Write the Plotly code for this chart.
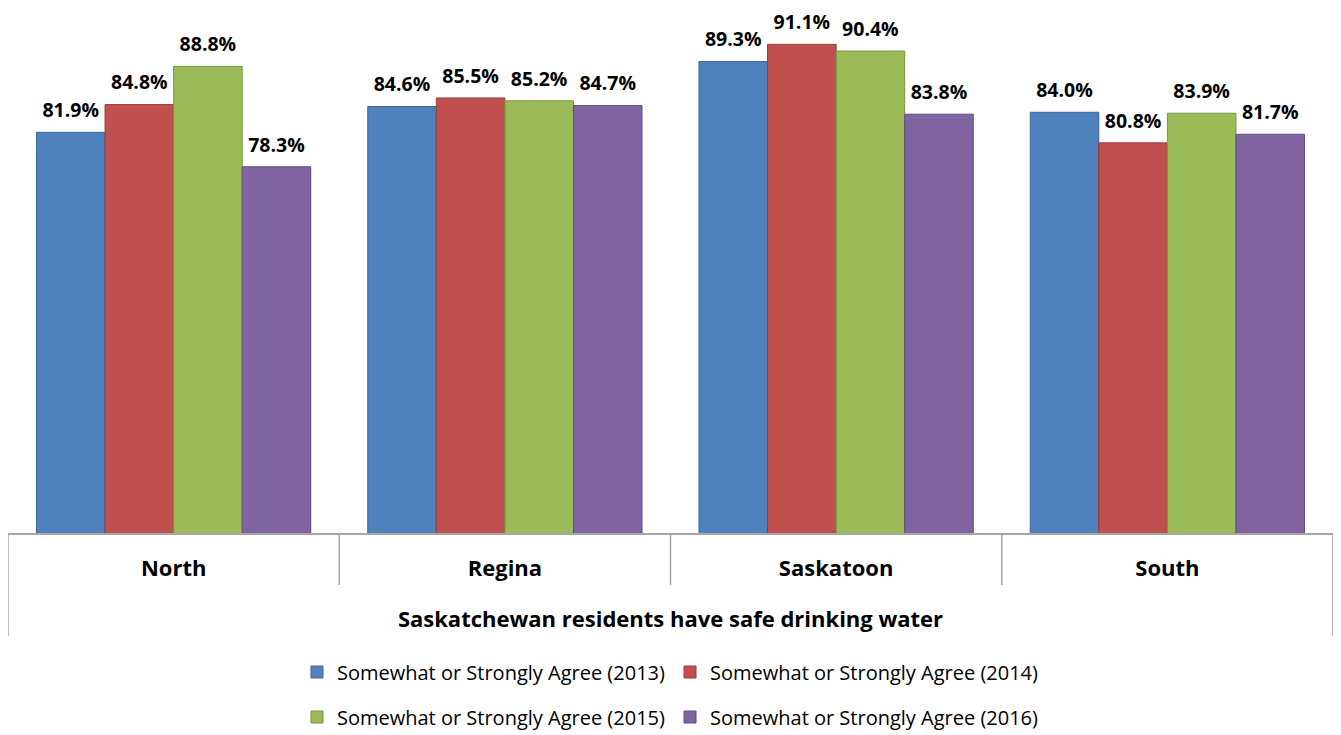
import plotly.graph_objects as go

categories = ["North", "Regina", "Saskatoon", "South"]
series_names = [
    "Somewhat or Strongly Agree (2013)",
    "Somewhat or Strongly Agree (2014)",
    "Somewhat or Strongly Agree (2015)",
    "Somewhat or Strongly Agree (2016)",
]
v2013 = [81.9, 84.6, 89.3, 84.0]
v2014 = [84.8, 85.5, 91.1, 80.8]
v2015 = [88.8, 85.2, 90.4, 83.9]
v2016 = [78.3, 84.7, 83.8, 81.7]
axis_title = "Saskatchewan residents have safe drinking water"

values = [v2013, v2014, v2015, v2016]
fills = ["#4F81BD", "#C0504D", "#9BBB59", "#8064A2"]
edges = ["#3A6698", "#9A3B39", "#78963F", "#624C80"]
legends = ["legend", "legend", "legend2", "legend2"]

FONT = "Open Sans"
GAP = 0.172

fig = go.Figure()
for idx, (name, vals, fc, ec, lg) in enumerate(zip(series_names, values, fills, edges, legends)):
    fig.add_trace(go.Bar(
        x=categories, y=vals, name=name,
        marker=dict(color=fc, line=dict(color=ec, width=1)),
        offsetgroup=str(idx), alignmentgroup="bars",
        legend=lg,
    ))
for idx, (name, vals) in enumerate(zip(series_names, values)):
    fig.add_trace(go.Scatter(
        x=categories, y=vals, mode="text+markers",
        marker=dict(size=15, opacity=0),
        text=[f"{v:.1f}%" for v in vals],
        textposition="top center",
        textfont=dict(family=FONT, size=19.5, color="#000000", weight="bold"),
        offsetgroup=str(idx), alignmentgroup="labels",
        showlegend=False, hoverinfo="skip",
        cliponaxis=False,
    ))

# page has an 8px body margin; figure is sized to fit the window
W, H = 1325, 727
ml, mr, mt, mb = 0, 0, 1, 202
ph = H - mt - mb

def py(px_below):
    return -px_below / ph

shapes = []
for i in range(len(categories) + 1):
    xpos = i - 0.5
    depth = 103 if i in (0, len(categories)) else 52
    shapes.append(dict(type="line", xref="x", yref="paper", x0=xpos, x1=xpos,
                       y0=0, y1=py(depth), line=dict(color="#A6A6A6", width=1.5)))

legend_font = dict(family=FONT, size=20, color="#000000")
fig.update_layout(
    width=W, height=H,
    margin=dict(l=ml, r=mr, t=mt, b=mb, autoexpand=False),
    paper_bgcolor="white", plot_bgcolor="white",
    barmode="group", bargap=GAP, bargroupgap=0,
    scattermode="group", scattergap=GAP,
    showlegend=True,
    legend=dict(orientation="h", x=0.5, xanchor="center", xref="container",
                y=(H - 664) / H, yanchor="middle", yref="container",
                font=legend_font, traceorder="normal", itemwidth=30, tracegroupgap=0),
    legend2=dict(orientation="h", x=0.5, xanchor="center", xref="container",
                 y=(H - 709) / H, yanchor="middle", yref="container",
                 font=legend_font, traceorder="normal", itemwidth=30, tracegroupgap=0),
    xaxis=dict(range=[-0.5, len(categories) - 0.5], showline=True, linecolor="#A6A6A6",
               linewidth=1.5, showgrid=False, zeroline=False, ticks="",
               automargin=False,
               tickfont=dict(family=FONT, size=22, color="#000000", weight="bold"),
               ticklabelstandoff=15,
               title=dict(text="<b>" + axis_title + "</b>",
                          font=dict(family=FONT, size=22, color="#000000"), standoff=30)),
    yaxis=dict(range=[40, 94.8], visible=False, showgrid=False, zeroline=False,
               automargin=False),
    shapes=shapes,
)

fig.write_html("out.html")
